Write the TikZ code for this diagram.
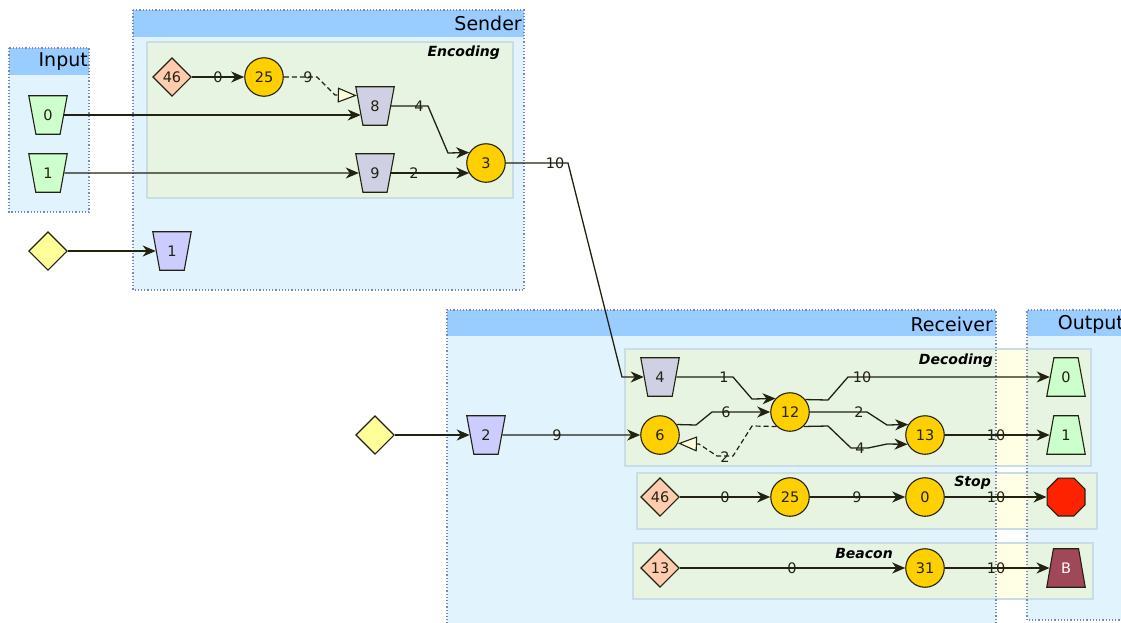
\documentclass[tikz,border=0pt]{standalone}
\usepackage{fontspec}
\setmainfont{DejaVu Sans}
\usetikzlibrary{shapes.geometric,arrows.meta}
\definecolor{hdr}{HTML}{99CCFF}
\definecolor{bodyc}{HTML}{E1F3FD}
\definecolor{dotc}{HTML}{7788BB}
\definecolor{subf}{HTML}{E6F4E1}
\definecolor{subb}{HTML}{C8DDE6}
\definecolor{band}{HTML}{FFFFE6}
\definecolor{linec}{HTML}{222211}
\definecolor{gold}{HTML}{FFD000}
\definecolor{salmon}{HTML}{FFCCB0}
\definecolor{ydia}{HTML}{FFFF99}
\definecolor{lav}{HTML}{CCCCFF}
\definecolor{grayl}{HTML}{D0D0E4}
\definecolor{lgreen}{HTML}{CCFFCC}
\definecolor{stopred}{HTML}{FF2200}
\definecolor{maroonc}{HTML}{A0485A}
\definecolor{tipfill}{HTML}{FFFFE0}
\begin{document}
\begin{tikzpicture}[x=1pt,y=-1pt,
  txt/.style={font=\fontsize{14.5}{16}\selectfont, text=linec},
  hdrtxt/.style={font=\fontsize{19}{22}\selectfont, text=black, inner sep=0pt},
  subtxt/.style={font=\fontsize{14}{16}\selectfont\bfseries\itshape, text=black, inner sep=0pt},
  elabel/.style={txt, inner sep=0pt},
  base/.style={txt, draw=linec, line width=1.1pt, inner sep=0pt},
  tz/.style={base, trapezium, trapezium left angle=76, trapezium right angle=76,
     minimum height=38.5pt, minimum width=38.5pt, trapezium stretches=true},
  tzinv/.style={tz, shape border rotate=180},
  circ/.style={base, circle, minimum size=38.5pt, fill=gold},
  dia/.style={base, diamond, aspect=1, minimum width=38.5pt, minimum height=38.5pt},
  oct/.style={base, regular polygon, regular polygon sides=8, minimum size=41pt, fill=stopred},
  edge/.style={draw=linec, line width=1.3pt, -{Stealth[length=13pt,width=11pt,inset=4pt]}},
  dedge/.style={draw=linec, line width=1.2pt, dash pattern=on 5pt off 3pt,
     -{Triangle[length=19pt,width=15pt,fill=tipfill,line width=1.1pt]}},
  clus/.style={draw=dotc, line width=1.2pt, dash pattern=on 1.2pt off 2pt},
  sub/.style={fill=subf, draw=subb, line width=1.6pt}
]
\clip (0,0) rectangle (1121,622);
% cluster backgrounds
\fill[bodyc] (9,48) rectangle (89,212);
\fill[hdr] (9,48) rectangle (89,75);
\fill[bodyc] (133,10) rectangle (524,290);
\fill[hdr] (133,10) rectangle (524,37);
\fill[bodyc] (447,310) rectangle (996,630);
\fill[hdr] (447,310) rectangle (996,336);
\fill[bodyc] (1027,310) rectangle (1126,620);
\fill[hdr] (1027,310) rectangle (1126,336);
% sub clusters
\draw[sub] (147,42) rectangle (513,198);
\fill[subf] (625,349) rectangle (1091,466);
\fill[band] (996,349) rectangle (1027,466);
\draw[subb, line width=1.6pt] (625,349) rectangle (1091,466);
\fill[subf] (637,473) rectangle (1097,529);
\fill[band] (996,473) rectangle (1027,529);
\draw[subb, line width=1.6pt] (637,473) rectangle (1097,529);
\fill[subf] (633,543) rectangle (1093,599);
\fill[band] (996,543) rectangle (1027,599);
\draw[subb, line width=1.6pt] (633,543) rectangle (1093,599);
% cluster borders
\draw[clus] (9,48) rectangle (89,212);
\draw[clus] (133,10) rectangle (524,290);
\draw[clus] (447,630) -- (447,310) -- (996,310) -- (996,630);
\draw[clus] (1126,620) -- (1027,620) -- (1027,310) -- (1126,310);
% titles
\node[hdrtxt, anchor=east] (tInput) at (88,62) {Input};
\node[hdrtxt, anchor=east] (tSender) at (522,23) {Sender};
\node[hdrtxt, anchor=east] (tReceiver) at (993,324) {Receiver};
\node[hdrtxt, anchor=east] (tOutput) at (1124,324) {Output};
\node[subtxt, anchor=east] (tEnc) at (500,53) {Encoding};
\node[subtxt, anchor=east] (tDec) at (993,361) {Decoding};
\node[subtxt, anchor=east] (tStop) at (991,483) {Stop};
\node[subtxt, anchor=east] (tBeacon) at (893,553) {Beacon};
% nodes: input / sender
\node[tzinv, fill=lgreen] (in0) at (48,115) {0};
\node[tzinv, fill=lgreen] (in1) at (48,173) {1};
\node[dia, fill=ydia] (yd1) at (48,251) {};
\node[tzinv, fill=lav] (p1) at (172,251) {1};
\node[dia, fill=salmon] (d46) at (172,77) {46};
\node[circ] (c25) at (264,77) {25};
\node[tzinv, fill=grayl] (t8) at (375,106) {8};
\node[tzinv, fill=grayl] (t9) at (375,173) {9};
\node[circ] (c3) at (486,163) {3};
% receiver
\node[dia, fill=ydia] (yd2) at (375,435) {};
\node[tzinv, fill=lav] (p2) at (486,435) {2};
\node[tzinv, fill=grayl] (t4) at (660,377) {4};
\node[circ] (c6) at (660,435) {6};
\node[circ] (c12) at (790,412) {12};
\node[circ] (c13) at (925,435) {13};
\node[tz, fill=lgreen] (o0) at (1066,377) {0};
\node[tz, fill=lgreen] (o1) at (1066,435) {1};
\node[dia, fill=salmon] (s46) at (660,497) {46};
\node[circ] (s25) at (790,497) {25};
\node[circ] (s0) at (925,497) {0};
\node[oct] (sstop) at (1066,497) {};
\node[dia, fill=salmon] (b13) at (660,568) {13};
\node[circ] (b31) at (925,568) {31};
\node[tz, fill=maroonc, text=white] (bB) at (1066,568) {B};
% edges
\draw[edge] (d46) -- (c25);
\draw[dedge] (c25) -- (317,77) -- (335,95) -- (t8.150);
\draw[edge] (in0.east) -- (t8.216 |- in0.east);
\draw[edge] (in1) -- (t9);
\draw[edge] (t8.0) -- (428,106) -- (448,153) -- (c3.148);
\draw[edge] (t9.east) -- (c3.212 |- t9.east);
\draw[edge] (yd1) -- (p1);
\draw[edge] (c3) -- (568,163) -- (622,377) -- (t4);
\draw[edge] (yd2) -- (p2);
\draw[edge] (p2) -- (c6);
\draw[edge] (t4) -- (733,377) -- (752,399) -- (c12.137);
\draw[edge] (c6.32) -- (696,425) -- (712,412) -- (c12);
\draw[dedge] (c12.227) -- (752,426) -- (733,456) -- (717,456) -- (699,444) -- (c6.-25);
\draw[edge] (c12.39) -- (828,400) -- (848,377) -- (o0);
\draw[edge] (c12) -- (867,412) -- (887,425) -- (c13.148);
\draw[edge] (c12.-47) -- (828,426) -- (851,448) -- (868,448) -- (887,444) -- (c13.208);
\draw[edge] (c13) -- (o1);
\draw[edge] (s46) -- (s25);
\draw[edge] (s25) -- (s0);
\draw[edge] (s0) -- (sstop);
\draw[edge] (b13) -- (b31);
\draw[edge] (b31) -- (bB);
% edge labels
\node[elabel] (l1) at (218,77) {0};
\node[elabel] (l2) at (308,77) {9};
\node[elabel] (l3) at (419,106) {4};
\node[elabel] (l4) at (414,173) {2};
\node[elabel] (l5) at (555,163) {10};
\node[elabel] (l6) at (557,435) {9};
\node[elabel] (l7) at (724,377) {1};
\node[elabel] (l8) at (726,412) {6};
\node[elabel] (l9) at (725,457) {2};
\node[elabel] (l10) at (862,377) {10};
\node[elabel] (l11) at (859,412) {2};
\node[elabel] (l12) at (860,448) {4};
\node[elabel] (l13) at (996,435) {10};
\node[elabel] (l14) at (725,497) {0};
\node[elabel] (l15) at (857,497) {9};
\node[elabel] (l16) at (996,497) {10};
\node[elabel] (l17) at (792,568) {0};
\node[elabel] (l18) at (996,568) {10};
\end{tikzpicture}
\end{document}
